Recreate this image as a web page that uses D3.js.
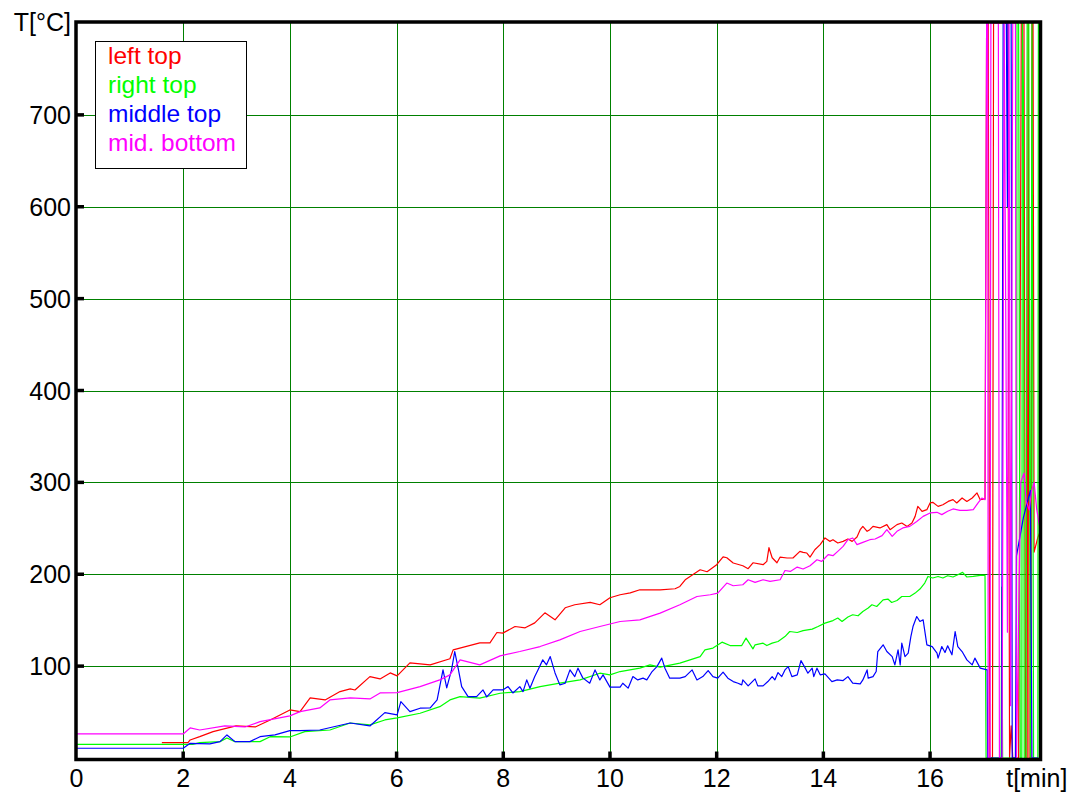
<!DOCTYPE html>
<html>
<head>
<meta charset="utf-8">
<script src="https://cdn.jsdelivr.net/npm/d3@7"></script>
<style>
html,body{margin:0;padding:0;background:#fff;}
svg{display:block;}
text{font-family:"Liberation Sans",Arial,Helvetica,sans-serif;}
</style>
</head>
<body>
<svg id="chart" width="1077" height="794"></svg>
<script>
// ---- data ----
const legendNames = ["left top", "right top", "middle top", "mid. bottom"];
const xTickValues = [0, 2, 4, 6, 8, 10, 12, 14, 16];
const xUnitLabel = "t[min]";
const yTickValues = [100, 200, 300, 400, 500, 600, 700];
const yUnitLabel = "T[°C]";

const leftTop = [
[1.60,16.7],[2.09,16.7],[2.13,19.6],[2.31,23.2],[2.56,28.7],[2.99,34.9],[3.35,33.8],[3.63,41.4],[4.0,52.3],[4.19,50.5],
[4.38,65.4],[4.66,63.2],[4.94,72.3],[5.13,75.2],[5.22,74],[5.50,88.6],[5.69,86.1],[5.88,92.6],[6.01,89.4],[6.25,103.5],
[6.63,101.4],[7.0,108],[7.06,117.7],[7.56,125.3],[7.75,125.3],[7.88,136.6],[7.99,135.9],[8.22,143.1],[8.41,141.7],[8.59,147.1],
[8.78,158],[8.97,150.4],[9.16,163.5],[9.34,166.8],[9.63,169.3],[9.81,166.8],[10.0,174.4],[10.19,177.7],[10.38,179.8],[10.56,183.1],
[10.94,183.1],[11.22,184.2],[11.31,186.7],[11.41,194],[11.69,204.9],[11.82,202.7],[12.0,210.4],[12.12,219],[12.19,218],[12.31,212.2],
[12.49,209.3],[12.59,206],[12.68,212.5],[12.87,210.4],[12.94,214],[12.98,228.9],[13.04,218],[13.13,212.5],[13.19,218.7],[13.32,217.7],
[13.43,217.7],[13.56,224.9],[13.62,223.8],[13.69,223.1],[13.75,218.7],[13.84,226.7],[13.94,232.2],[14.03,239.5],[14.12,235.8],[14.18,237.6],
[14.27,234],[14.37,235.8],[14.46,238.4],[14.54,235.8],[14.63,240.5],[14.69,248.5],[14.74,252.1],[14.82,246.7],[14.87,248.5],[14.93,252.1],
[15.06,250.4],[15.19,254],[15.25,248.5],[15.38,254],[15.47,255.8],[15.57,252.1],[15.66,255.8],[15.72,263],[15.77,273.9],[15.85,268.5],
[15.94,270.3],[16.0,277.6],[16.05,278.3],[16.15,273.9],[16.24,275.7],[16.34,279.3],[16.43,281.2],[16.5,277.6],[16.6,283],[16.69,279.3],
[16.79,283],[16.88,288.5],[16.94,281.2],[17.03,282],
[17.06,800],[17.09,800],[17.12,0],[17.17,0],[17.19,800],[17.46,800],[17.49,0],[17.52,35],[17.55,0],[17.66,0],[17.71,800],[17.76,800],
[17.79,0],[17.82,0],[17.84,800],[17.855,0],[17.89,0],[17.91,800],[17.93,800],[17.95,224],[18.02,240],[18.06,246]
];

const rightTop = [
[0,14.9],[2.18,14.9],[2.31,16.7],[2.69,17.8],[2.82,21.8],[2.97,17.8],[3.44,17.8],[3.63,23.2],[4.0,22.9],[4.28,28.7],
[4.75,30.5],[5.13,38.1],[5.5,36],[5.78,41.4],[6.01,43.6],[6.44,48.7],[6.81,55.9],[7.0,63.2],[7.19,66.8],[7.56,65.1],
[7.94,70.5],[8.31,72.3],[8.69,77.7],[9.06,81.4],[9.44,85],[9.81,92.3],[10.0,90.5],[10.19,94.1],[10.56,97.8],[10.75,101.4],
[10.94,98.9],[11.31,103.2],[11.69,110.4],[11.78,117.7],[11.93,119.6],[12.1,126.1],[12.25,122.4],[12.47,122.4],[12.55,130.5],[12.62,124.3],
[12.68,118.8],[12.72,123.2],[12.87,125],[12.94,122.4],[13.04,125],[13.15,126.8],[13.28,132.2],[13.37,137.7],[13.51,136.6],[13.62,138.7],
[13.79,140.3],[13.9,143.1],[14.03,146.8],[14.18,149.6],[14.27,152.3],[14.35,148.6],[14.46,153.4],[14.55,155.9],[14.65,154.8],[14.74,159.5],
[14.84,163.2],[14.91,166.8],[15.0,164.9],[15.12,172.2],[15.21,173],[15.28,169.3],[15.38,171.4],[15.47,175.8],[15.62,175.8],[15.72,179.5],
[15.81,183.9],[15.9,190.4],[15.96,197.6],[16.05,195.9],[16.15,197.6],[16.24,195.9],[16.33,198.4],[16.43,197],[16.52,199.5],[16.61,202],
[16.69,197],[16.81,197.6],[16.94,198.7],[17.03,198.7],
[17.05,0],[17.33,0],[17.345,186],[17.36,0],[17.62,0],[17.63,800],[17.66,800],[17.69,0],[17.72,0],[17.73,800],[17.75,728],[17.765,0],
[17.80,0],[17.82,800],[17.85,800],[17.88,0],[17.91,800],[17.94,0],[18.02,0],[18.03,800]
];

const middleTop = [
[0,10.6],[2.0,10.6],[2.13,16],[2.5,15.3],[2.69,17.8],[2.82,25.1],[2.97,17.8],[3.25,17.8],[3.44,23.2],[3.72,25.1],
[4.0,29.8],[4.19,29.8],[4.56,30.5],[5.13,38.1],[5.5,34.9],[5.78,49.4],[6.01,47],[6.08,61.4],[6.25,50.5],[6.44,54.2],
[6.63,54.5],[6.76,63.2],[6.87,95.9],[6.94,76.3],[7.03,95.9],[7.09,115.9],[7.16,95.9],[7.22,77.7],[7.34,66.8],[7.5,66.8],
[7.62,74.1],[7.69,66.5],[7.81,74.1],[7.99,74.1],[8.09,77.7],[8.18,70.8],[8.31,77.7],[8.37,72.3],[8.44,85],[8.5,76],
[8.59,88.6],[8.65,95.9],[8.74,106.8],[8.81,101.4],[8.88,110.4],[8.97,92.6],[9.06,79.6],[9.16,81.4],[9.25,95.9],[9.34,88.6],
[9.4,97.8],[9.49,87.2],[9.62,81.4],[9.72,95.9],[9.81,85],[9.87,90.5],[10.0,77.1],[10.19,77.1],[10.24,81.4],[10.34,76],
[10.43,88.6],[10.52,85],[10.62,86.9],[10.69,85],[10.79,94.1],[10.88,99.5],[10.97,108.7],[11.03,97.8],[11.12,86.9],[11.31,86.9],
[11.41,88.6],[11.54,95.9],[11.63,85],[11.74,88.6],[11.84,95.2],[11.93,88.6],[12.02,86.9],[12.12,93.4],[12.21,86.9],[12.31,83.2],
[12.4,81.4],[12.47,79.6],[12.49,85],[12.59,78.5],[12.72,86.1],[12.77,78.5],[12.87,78.5],[12.96,83.2],[13.04,88.6],[13.09,85],
[13.15,93],[13.22,88.6],[13.28,95.9],[13.34,99.5],[13.41,88.6],[13.51,90.5],[13.58,106],[13.66,97.8],[13.71,92.3],[13.79,97.8],
[13.82,88.6],[13.88,97.8],[13.94,90.5],[14.03,91.6],[14.16,83.2],[14.26,85],[14.37,84.3],[14.46,88.6],[14.55,81.4],[14.69,80.7],
[14.74,85],[14.82,95.9],[14.84,86.9],[14.93,88.6],[14.99,94.1],[15.02,115.9],[15.12,123.2],[15.19,115.9],[15.29,110.4],[15.34,101.4],
[15.4,117.7],[15.44,101.4],[15.47,125],[15.53,110.4],[15.59,114.1],[15.64,132.2],[15.68,143.1],[15.75,154],[15.81,148.6],[15.87,150.4],
[15.94,123.2],[16.04,121.3],[16.13,114.1],[16.15,108.7],[16.22,121.3],[16.28,114.8],[16.33,122.1],[16.41,112.3],[16.47,137.7],[16.52,121.3],
[16.6,115.9],[16.69,106.8],[16.79,101.4],[16.84,108.7],[16.94,97.8],[17.07,95.9],
[17.08,0],[17.34,0],[17.37,800],[17.43,800],[17.45,600],[17.46,800],[17.52,800],[17.54,0],[17.6,0],[17.62,220],[17.75,262],[17.88,291],
[17.91,0],[18.03,0]
];

const midBottom = [
[0,26.2],[2.0,26.2],[2.13,32.7],[2.31,30.5],[2.78,34.9],[3.16,33.8],[3.44,39.6],[4.0,45.8],[4.19,50.5],[4.56,54.5],
[4.75,63.2],[5.13,65.4],[5.50,64.3],[5.69,70.8],[6.01,71.2],[6.44,77.7],[6.81,85],[7.0,90.5],[7.19,106.8],[7.56,101.4],
[7.94,111.2],[8.31,115.9],[8.69,121.3],[9.06,128.6],[9.44,137.7],[9.81,143.1],[10.19,148.6],[10.56,150.4],[10.94,157.7],[11.31,166.8],
[11.63,175.8],[11.88,177.7],[12.02,179.5],[12.19,190.4],[12.31,187.5],[12.49,188.6],[12.59,194],[12.72,191.1],[12.87,194],[13.0,192.2],
[13.19,194],[13.28,204.1],[13.38,203.1],[13.51,207.8],[13.62,205.7],[13.75,209.3],[13.88,215.8],[13.97,214],[14.03,217.7],[14.09,221.3],
[14.18,220.2],[14.27,224.9],[14.37,230.3],[14.46,237.6],[14.55,239.5],[14.63,232.2],[14.74,234.7],[14.87,237.6],[14.97,238.4],[15.1,242],
[15.19,248.5],[15.29,241.2],[15.38,246.7],[15.49,250.4],[15.62,252.1],[15.75,257.5],[15.87,263],[16.0,266.7],[16.13,267.4],[16.22,264.9],
[16.33,268.5],[16.43,271.1],[16.56,269.5],[16.69,269.5],[16.81,270.3],[16.9,277.6],[16.97,283],[17.03,281.2],
[17.06,800],[17.08,800],[17.09,0],[17.125,0],[17.14,800],[17.28,800],[17.30,0],[17.35,0],[17.39,800],[17.45,137],[17.48,800],[17.51,57],
[17.55,800],[17.60,800],[17.62,0],[17.70,300],[17.76,310],[17.80,280],[17.86,270],[17.90,290],[17.95,300],[18.0,270],[18.06,250]
];

const seriesList = [leftTop, rightTop, middleTop, midBottom];
const seriesColors = ["#ff0000", "#00ff00", "#0000ff", "#ff00ff"];

// ---- layout ----
const svg = d3.select("#chart");
const L = 76, R = 1040.5, T = 22, B = 759.5;
const x = d3.scaleLinear().domain([0, 18.07]).range([76.5, 1040.5]);
const y = d3.scaleLinear().domain([0, 800]).range([758, 23]);

svg.append("defs").append("clipPath").attr("id", "clip")
  .append("rect").attr("x", L).attr("y", T).attr("width", R - L).attr("height", B - T);

// grid
const grid = svg.append("g");
grid.selectAll("line.v").data(xTickValues.filter(d => d > 0)).join("line")
  .attr("x1", d => Math.round(x(d)) + 0.5).attr("x2", d => Math.round(x(d)) + 0.5)
  .attr("y1", T).attr("y2", B)
  .attr("stroke", "#008000").attr("stroke-width", 1);
grid.selectAll("line.h").data(yTickValues).join("line")
  .attr("y1", d => Math.round(y(d)) + 0.5).attr("y2", d => Math.round(y(d)) + 0.5)
  .attr("x1", L).attr("x2", R)
  .attr("stroke", "#008000").attr("stroke-width", 1);

// series
const line = d3.line().x(d => x(d[0])).y(d => y(d[1]));
const lines = svg.append("g").attr("clip-path", "url(#clip)");
seriesList.forEach((s, i) => {
  lines.append("path").datum(s).attr("d", line)
    .attr("fill", "none").attr("stroke", seriesColors[i]).attr("stroke-width", 1.2)
    .attr("stroke-linejoin", "round");
});

// ticks (inside)
const tk = svg.append("g");
tk.selectAll("line.xt").data(xTickValues.filter(d => d > 0)).join("line")
  .attr("x1", d => x(d)).attr("x2", d => x(d)).attr("y1", B).attr("y2", B - 8)
  .attr("stroke", "#000").attr("stroke-width", 3.5);
tk.selectAll("line.yt").data(yTickValues).join("line")
  .attr("y1", d => y(d)).attr("y2", d => y(d)).attr("x1", L).attr("x2", L + 8)
  .attr("stroke", "#000").attr("stroke-width", 3.5);

// frame
svg.append("rect").attr("x", L).attr("y", T).attr("width", R - L).attr("height", B - T)
  .attr("fill", "none").attr("stroke", "#000").attr("stroke-width", 3.5);

// axis labels
const lab = svg.append("g").attr("font-size", 25).attr("fill", "#000");
lab.selectAll("text.x").data(xTickValues).join("text")
  .attr("x", d => x(d)).attr("y", 787).attr("text-anchor", "middle").text(d => d);
lab.append("text").attr("x", x(18)).attr("y", 787).attr("text-anchor", "middle").text(xUnitLabel);
lab.selectAll("text.y").data(yTickValues).join("text")
  .attr("x", 71).attr("y", d => y(d) + 9).attr("text-anchor", "end").text(d => d);
lab.append("text").attr("x", 71).attr("y", 31).attr("text-anchor", "end").text(yUnitLabel);

// legend
const lg = svg.append("g");
lg.append("rect").attr("x", 95.5).attr("y", 41.5).attr("width", 151).attr("height", 127)
  .attr("fill", "#fff").attr("stroke", "#000").attr("stroke-width", 1);
lg.selectAll("text").data(legendNames).join("text")
  .attr("x", 108).attr("y", (d, i) => 63.5 + i * 29.2)
  .attr("font-size", 24.5).attr("fill", (d, i) => seriesColors[i]).text(d => d);
</script>
</body>
</html>
